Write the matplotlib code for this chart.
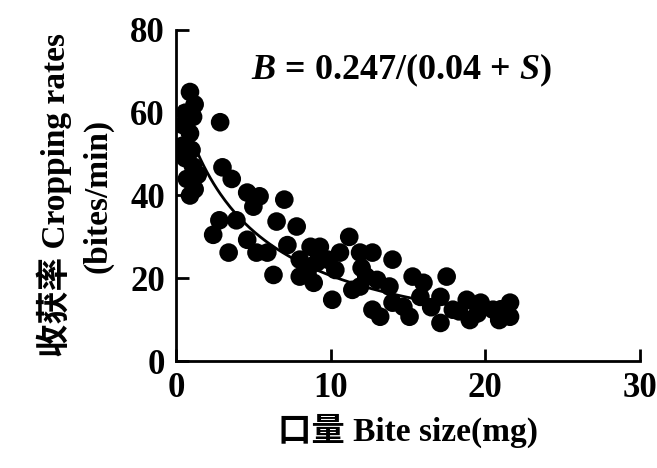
import numpy as np
import matplotlib
matplotlib.use("Agg")
import matplotlib.pyplot as plt

plt.rcParams['font.family'] = ['Liberation Serif', 'Noto Sans CJK SC']
plt.rcParams['font.weight'] = 'bold'
plt.rcParams['axes.labelweight'] = 'bold'
plt.rcParams['mathtext.fontset'] = 'custom'
plt.rcParams['mathtext.it'] = 'Liberation Serif:italic:bold'
plt.rcParams['mathtext.rm'] = 'Liberation Serif:bold'

# Bite size (mg) and cropping rate (bites/min)
bite_size = [0.9, 1.2, 0.6, 1.1, 0.45, 0.9, 0.4, 1.0, 0.6, 1.1, 0.7, 1.2, 0.9, 1.4,
             2.85, 3.0, 3.6, 4.6, 5.4, 5.0, 7.0, 6.5, 7.8, 2.4, 3.4, 2.8, 3.9,
             4.6, 5.2, 5.9, 6.3, 8.0, 8.5, 8.9, 9.3, 9.1, 10.1, 11.2, 10.6, 11.9,
             12.3, 11.4, 12.7, 13.2, 14.0, 13.8, 14.7, 15.3, 16.0, 15.1, 17.5, 17.1,
             17.1, 18.8, 19.0, 19.7, 20.5, 21.6, 21.6, 20.9, 8.7, 8.0, 9.8, 11.9,
             13.0, 14.0, 15.8, 17.9, 12.7, 10.3, 12.0, 16.5, 18.3, 21.0, 19.5, 7.2]
crop_rate = [65, 62, 60, 59, 57, 55, 52, 51, 49, 47, 44, 41.5, 40, 45,
             57.7, 46.8, 44, 40.7, 39.8, 37.3, 39, 33.7, 32.5, 30.5, 26.2, 34, 34,
             29.3, 26.2, 26.2, 20.8, 24.5, 21.3, 18.9, 27.6, 23.8, 14.8, 30, 26.2, 26.2,
             20.4, 17.2, 12.4, 10.7, 24.5, 18, 13.1, 20.4, 18.9, 10.7, 20.4, 15.5,
             9.2, 14.8, 9.9, 14.1, 12.4, 14.1, 10.7, 9.9, 27.6, 20.4, 24.5, 18,
             19.6, 14.1, 15.5, 12.4, 26.2, 22, 22.5, 13, 12, 12.5, 11.5, 28]

S = np.array(bite_size)
B = np.array(crop_rate)
# fitted hyperbola B = a/(b + S), fitted as 1/B linear in S
k, c = np.polyfit(S, 1.0 / B, 1)
s_fit = np.linspace(0.3, 21.5, 200)
b_fit = 1.0 / (k * s_fit + c)

fig = plt.figure(figsize=(6.57, 4.68), dpi=100)
ax = fig.add_axes([0.268, 0.2286, 0.706, 0.7074])

ax.plot(s_fit, b_fit, color='black', lw=2, zorder=2)
ax.scatter(S, B, s=180, color='black', edgecolors='none', zorder=3)

ax.set_xlim(0, 30)
ax.set_ylim(0, 80)
ax.set_xticks([0, 10, 20, 30])
ax.set_yticks([0, 20, 40, 60, 80])
for sp in ['top', 'right']:
    ax.spines[sp].set_visible(False)
for sp in ['left', 'bottom']:
    ax.spines[sp].set_linewidth(2)
ax.tick_params(direction='in', length=9, width=2, labelsize=25, pad=8)

ax.set_xlabel('口量 Bite size(mg)', fontsize=24, fontweight='bold', labelpad=6)
ax.set_ylabel('收获率 Cropping rates\n(bites/min)', fontsize=24, fontweight='bold',
              labelpad=12, linespacing=1.45)

ax.text(0.485, 0.879, r'$B$ = 0.247/(0.04 + $S$)', transform=ax.transAxes,
        fontsize=26, ha='center', va='center')

fig.savefig('out.png', dpi=100)
